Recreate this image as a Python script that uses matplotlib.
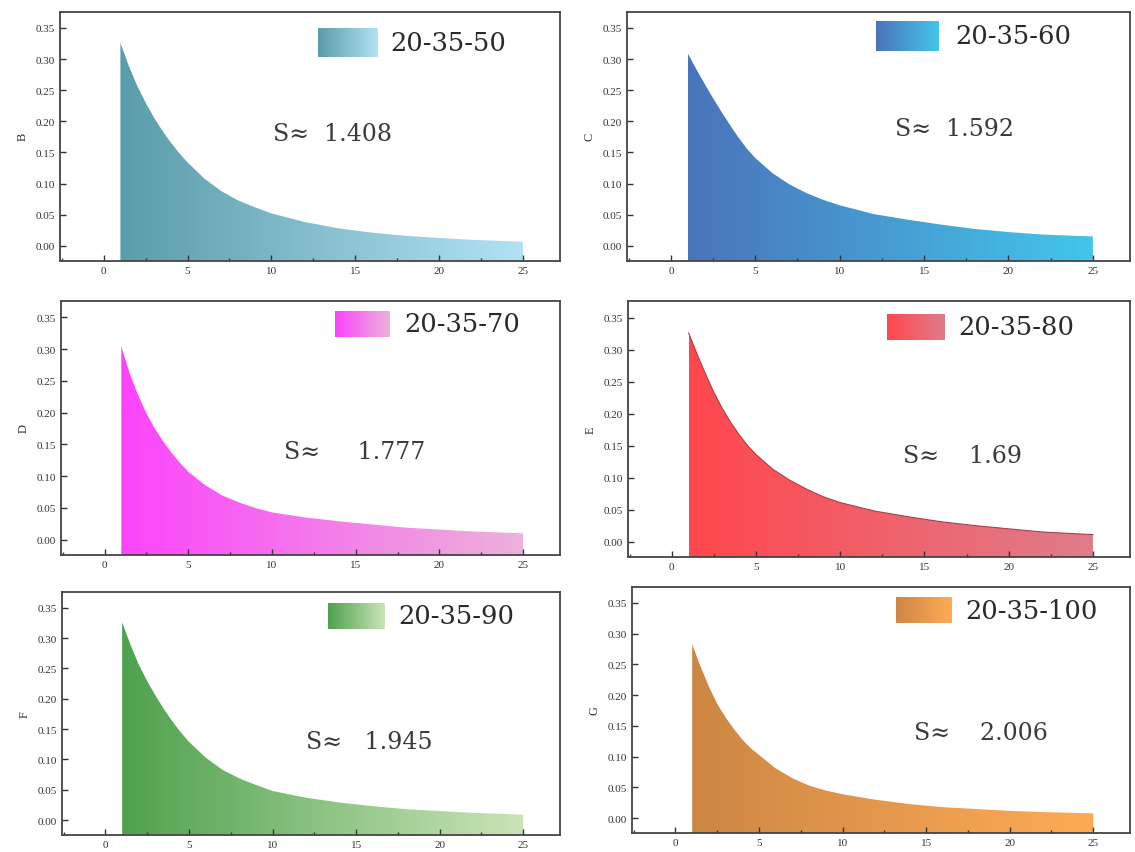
import numpy as np
import matplotlib
matplotlib.use("Agg")
import matplotlib.pyplot as plt
from matplotlib.colors import LinearSegmentedColormap
from matplotlib.patches import PathPatch
from matplotlib.ticker import MultipleLocator, FormatStrFormatter

plt.rcParams['font.family'] = ['Liberation Serif', 'DejaVu Serif']

# values
x = [1, 1.5, 2, 2.5, 3, 3.5, 4, 4.5, 5, 6, 7, 8, 9, 10, 12, 14, 16, 18, 20, 22, 25]
y_B = [0.326, 0.289, 0.257, 0.230, 0.206, 0.185, 0.166, 0.149, 0.134, 0.108, 0.088, 0.073, 0.062,
       0.052, 0.038, 0.028, 0.021, 0.016, 0.0125, 0.0095, 0.0065]
y_C = [0.309, 0.284, 0.260, 0.237, 0.215, 0.194, 0.174, 0.156, 0.141, 0.117, 0.099, 0.085, 0.074,
       0.065, 0.051, 0.042, 0.034, 0.027, 0.022, 0.018, 0.015]
y_D = [0.304, 0.262, 0.228, 0.199, 0.175, 0.155, 0.137, 0.121, 0.107, 0.086, 0.070, 0.059, 0.050,
       0.043, 0.035, 0.029, 0.024, 0.019, 0.016, 0.013, 0.010]
y_E = [0.326, 0.293, 0.262, 0.233, 0.208, 0.186, 0.167, 0.150, 0.136, 0.113, 0.096, 0.082, 0.070,
       0.061, 0.048, 0.039, 0.031, 0.025, 0.020, 0.015, 0.011]
y_F = [0.326, 0.289, 0.256, 0.229, 0.205, 0.183, 0.163, 0.145, 0.129, 0.103, 0.083, 0.069, 0.058,
       0.048, 0.037, 0.029, 0.023, 0.018, 0.015, 0.012, 0.009]
y_G = [0.283, 0.247, 0.214, 0.186, 0.164, 0.145, 0.128, 0.114, 0.103, 0.081, 0.065, 0.053, 0.045,
       0.039, 0.030, 0.023, 0.018, 0.015, 0.012, 0.010, 0.008]

ylabels = ["B", "C", "D", "E", "F", "G"]
series = [y_B, y_C, y_D, y_E, y_F, y_G]
legend_labels = ["20-35-50", "20-35-60", "20-35-70", "20-35-80", "20-35-90", "20-35-100"]
areas = ["1.408", "1.592", "1.777", "1.69", "1.945", "2.006"]

colors = [("#5a9daa", "#b2e2f5"),
          ("#4a74bb", "#42c6ea"),
          ("#fb44fb", "#ecb2da"),
          ("#ff474d", "#df7d8b"),
          ("#4ea24e", "#cbe4b8"),
          ("#cd8744", "#ffab55")]
edge = [None, None, None, "#a8404c", None, None]

W, H = 1135, 853
# axes boxes in pixels: left, right, top, bottom
boxes = [(60, 560, 12.7, 261.7), (627, 1130, 12.7, 261.7),
         (61, 560, 301.7, 556), (628, 1130, 302, 558),
         (62, 560, 593, 835.7), (632, 1130, 588, 834)]
# legend swatch (x0, x1, y0, y1) and text x in axes fraction
leg = [(0.516, 0.636, 0.818, 0.935, 0.660),
       (0.495, 0.620, 0.842, 0.963, 0.652),
       (0.549, 0.659, 0.857, 0.960, 0.687),
       (0.516, 0.631, 0.848, 0.950, 0.657),
       (0.534, 0.647, 0.848, 0.955, 0.675),
       (0.530, 0.641, 0.854, 0.959, 0.669)]
s_pos = [(10.1, 0.180), (13.3, 0.188), (10.7, 0.139),
         (13.7, 0.134), (12.0, 0.129), (14.3, 0.140)]
s_gap = ["S≈  ", "S≈  ", "S≈     ", "S≈    ", "S≈   ", "S≈    "]

YBOT, YTOP = -0.024, 0.376
grad = np.linspace(0, 1, 256).reshape(1, -1)
big_font = ['DejaVu Serif']

fig = plt.figure(figsize=(W / 100, H / 100), dpi=100)

for i in range(6):
    l, r, t, b = boxes[i]
    ax = fig.add_axes([l / W, 1 - b / H, (r - l) / W, (b - t) / H])
    cmap = LinearSegmentedColormap.from_list("g%d" % i, colors[i])

    poly = ax.fill_between(x, series[i], YBOT, facecolor="none", edgecolor="none")
    clip = PathPatch(poly.get_paths()[0], transform=ax.transData,
                     facecolor="none", edgecolor="none")
    ax.add_patch(clip)
    im = ax.imshow(grad, extent=[x[0], x[-1], YBOT, max(series[i])],
                   aspect="auto", cmap=cmap, origin="lower", zorder=1)
    im.set_clip_path(clip)
    if edge[i]:
        ax.plot(x, series[i], color=edge[i], lw=0.8, zorder=2)

    ax.set_xlim(-2.6, 27.2)
    ax.set_ylim(YBOT, YTOP)
    ax.set_aspect("auto")
    ax.xaxis.set_major_locator(MultipleLocator(5))
    ax.xaxis.set_minor_locator(MultipleLocator(2.5))
    ax.yaxis.set_major_locator(MultipleLocator(0.05))
    ax.yaxis.set_major_formatter(FormatStrFormatter("%.2f"))
    ax.tick_params(which="both", direction="in", top=False, right=False,
                   labelsize=8, colors="#333333", width=1)
    ax.tick_params(which="major", length=4)
    ax.tick_params(which="minor", length=2)
    for sp in ax.spines.values():
        sp.set_color("#444444")
        sp.set_linewidth(1.3)
    ax.set_ylabel(ylabels[i], fontsize=9, color="#333333", labelpad=5)

    # legend swatch with gradient
    x0, x1, y0, y1, tx = leg[i]
    sw = ax.inset_axes([x0, y0, x1 - x0, y1 - y0])
    sw.imshow(grad, aspect="auto", cmap=cmap)
    sw.axis("off")
    ax.text(tx, (y0 + y1) / 2, legend_labels[i], transform=ax.transAxes,
            fontsize=18.5, family=big_font, ha="left", va="center", color="#2a2a2a")

    sx, sy = s_pos[i]
    ax.text(sx, sy, s_gap[i] + areas[i], fontsize=17, family=big_font,
            ha="left", va="center", color="#3a3a3a")

fig.savefig("out.png", dpi=100)
